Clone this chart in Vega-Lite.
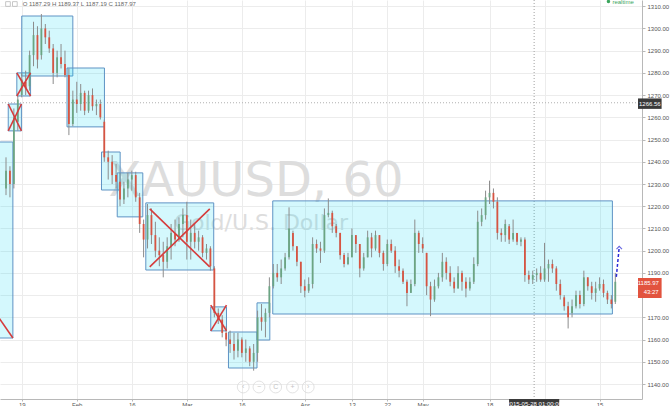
{
  "$schema": "https://vega.github.io/schema/vega-lite/v6.json",
  "width": 642,
  "height": 399,
  "autosize": {"type": "none"},
  "padding": {"left": 0, "top": 0, "right": 28, "bottom": 7},
  "background": "white",
  "config": {"view": {"stroke": null}, "font": "Liberation Sans"},
  "data": {"values": [{"k": 1}]},
  "datasets": {
    "candles": [
      {"t":"2015-01-15T00:00","o":1228,"h":1242,"l":1225,"c":1236},
      {"t":"2015-01-16T00:00","o":1236,"h":1238,"l":1224,"c":1230},
      {"t":"2015-01-17T00:00","o":1230,"h":1264,"l":1228,"c":1260},
      {"t":"2015-01-18T00:00","o":1258,"h":1270,"l":1254,"c":1268},
      {"t":"2015-01-19T00:00","o":1270,"h":1280,"l":1269,"c":1277},
      {"t":"2015-01-20T00:00","o":1276,"h":1281,"l":1270,"c":1273},
      {"t":"2015-01-21T00:00","o":1274,"h":1290,"l":1272,"c":1288},
      {"t":"2015-01-22T00:00","o":1288,"h":1303,"l":1283,"c":1297},
      {"t":"2015-01-23T00:00","o":1297,"h":1301,"l":1282,"c":1286},
      {"t":"2015-01-24T00:00","o":1288,"h":1306.5,"l":1286,"c":1300},
      {"t":"2015-01-25T00:00","o":1300,"h":1302,"l":1293,"c":1296},
      {"t":"2015-01-26T00:00","o":1296,"h":1299,"l":1289,"c":1291},
      {"t":"2015-01-27T00:00","o":1291,"h":1293,"l":1275,"c":1280},
      {"t":"2015-01-28T00:00","o":1280,"h":1290,"l":1278,"c":1287},
      {"t":"2015-01-29T00:00","o":1287,"h":1293,"l":1282,"c":1284},
      {"t":"2015-01-30T00:00","o":1284,"h":1290,"l":1278,"c":1279},
      {"t":"2015-01-31T00:00","o":1279,"h":1282,"l":1252,"c":1257},
      {"t":"2015-02-01T00:00","o":1257,"h":1272,"l":1256,"c":1268},
      {"t":"2015-02-02T00:00","o":1268,"h":1276,"l":1262,"c":1266},
      {"t":"2015-02-03T00:00","o":1266,"h":1275,"l":1263,"c":1271},
      {"t":"2015-02-04T00:00","o":1271,"h":1272,"l":1261,"c":1263},
      {"t":"2015-02-05T00:00","o":1263,"h":1272,"l":1262,"c":1270},
      {"t":"2015-02-06T00:00","o":1270,"h":1273,"l":1263,"c":1265},
      {"t":"2015-02-07T00:00","o":1265,"h":1268,"l":1261,"c":1266},
      {"t":"2015-02-08T00:00","o":1266,"h":1268,"l":1259,"c":1260},
      {"t":"2015-02-09T00:00","o":1258,"h":1259,"l":1240,"c":1242},
      {"t":"2015-02-10T00:00","o":1242,"h":1245,"l":1232,"c":1240},
      {"t":"2015-02-11T00:00","o":1240,"h":1243,"l":1230,"c":1234},
      {"t":"2015-02-12T00:00","o":1234,"h":1239,"l":1228,"c":1231},
      {"t":"2015-02-13T00:00","o":1231,"h":1235,"l":1220,"c":1223},
      {"t":"2015-02-14T00:00","o":1223,"h":1231,"l":1221,"c":1228},
      {"t":"2015-02-15T00:00","o":1228,"h":1235,"l":1224,"c":1232},
      {"t":"2015-02-16T00:00","o":1232,"h":1236,"l":1227,"c":1234},
      {"t":"2015-02-17T00:00","o":1234,"h":1235.5,"l":1222,"c":1224},
      {"t":"2015-02-18T00:00","o":1224,"h":1226,"l":1208,"c":1212},
      {"t":"2015-02-19T00:00","o":1212,"h":1214,"l":1197,"c":1205},
      {"t":"2015-02-20T00:00","o":1205,"h":1221,"l":1201,"c":1216},
      {"t":"2015-02-21T00:00","o":1216,"h":1219,"l":1203,"c":1207},
      {"t":"2015-02-22T00:00","o":1207,"h":1213,"l":1197,"c":1200},
      {"t":"2015-02-23T00:00","o":1200,"h":1206,"l":1193,"c":1198},
      {"t":"2015-02-24T00:00","o":1198,"h":1204,"l":1188,"c":1195},
      {"t":"2015-02-25T00:00","o":1195,"h":1206,"l":1192,"c":1202},
      {"t":"2015-02-26T00:00","o":1202,"h":1212,"l":1196,"c":1208},
      {"t":"2015-02-27T00:00","o":1208,"h":1214,"l":1202,"c":1205},
      {"t":"2015-02-28T00:00","o":1205,"h":1215,"l":1204,"c":1212},
      {"t":"2015-03-01T00:00","o":1212,"h":1219,"l":1206,"c":1216},
      {"t":"2015-03-02T00:00","o":1216,"h":1222,"l":1196,"c":1204},
      {"t":"2015-03-03T00:00","o":1204,"h":1214,"l":1196,"c":1208},
      {"t":"2015-03-04T00:00","o":1208,"h":1212,"l":1201,"c":1204},
      {"t":"2015-03-05T00:00","o":1204,"h":1209,"l":1200,"c":1206},
      {"t":"2015-03-06T00:00","o":1206,"h":1207,"l":1197,"c":1199},
      {"t":"2015-03-07T00:00","o":1199,"h":1203,"l":1196,"c":1201},
      {"t":"2015-03-08T00:00","o":1201,"h":1202,"l":1191,"c":1193},
      {"t":"2015-03-09T00:00","o":1192,"h":1193,"l":1170,"c":1172},
      {"t":"2015-03-10T00:00","o":1172,"h":1174,"l":1167,"c":1169},
      {"t":"2015-03-11T00:00","o":1169,"h":1171,"l":1161,"c":1163},
      {"t":"2015-03-12T00:00","o":1163,"h":1166,"l":1157,"c":1160},
      {"t":"2015-03-13T00:00","o":1160,"h":1164,"l":1154,"c":1158},
      {"t":"2015-03-14T00:00","o":1158,"h":1163,"l":1151,"c":1155},
      {"t":"2015-03-15T00:00","o":1155,"h":1163,"l":1152,"c":1160},
      {"t":"2015-03-16T00:00","o":1160,"h":1161,"l":1152,"c":1154},
      {"t":"2015-03-17T00:00","o":1154,"h":1160,"l":1150,"c":1156},
      {"t":"2015-03-18T00:00","o":1156,"h":1157,"l":1148,"c":1150},
      {"t":"2015-03-19T00:00","o":1150,"h":1158,"l":1146,"c":1154},
      {"t":"2015-03-20T00:00","o":1154,"h":1173,"l":1150,"c":1170},
      {"t":"2015-03-21T00:00","o":1170,"h":1176,"l":1164,"c":1168},
      {"t":"2015-03-22T00:00","o":1168,"h":1174,"l":1161,"c":1172},
      {"t":"2015-03-23T00:00","o":1172,"h":1188,"l":1170,"c":1184},
      {"t":"2015-03-24T00:00","o":1184,"h":1194,"l":1183,"c":1190},
      {"t":"2015-03-25T00:00","o":1190,"h":1194,"l":1186,"c":1188},
      {"t":"2015-03-26T00:00","o":1188,"h":1196,"l":1185,"c":1192},
      {"t":"2015-03-27T00:00","o":1192,"h":1199,"l":1191,"c":1197},
      {"t":"2015-03-28T00:00","o":1197,"h":1219.5,"l":1196,"c":1210},
      {"t":"2015-03-29T00:00","o":1208,"h":1209,"l":1200,"c":1202},
      {"t":"2015-03-30T00:00","o":1202,"h":1202,"l":1193,"c":1195},
      {"t":"2015-03-31T00:00","o":1195,"h":1195,"l":1181,"c":1184},
      {"t":"2015-04-01T00:00","o":1184,"h":1187,"l":1179,"c":1182},
      {"t":"2015-04-02T00:00","o":1182,"h":1188,"l":1181,"c":1185},
      {"t":"2015-04-03T00:00","o":1185,"h":1206,"l":1183,"c":1203},
      {"t":"2015-04-04T00:00","o":1203,"h":1205,"l":1199,"c":1201},
      {"t":"2015-04-05T00:00","o":1201,"h":1204,"l":1194.5,"c":1200},
      {"t":"2015-04-06T00:00","o":1200,"h":1219,"l":1199,"c":1216},
      {"t":"2015-04-07T00:00","o":1216,"h":1223.5,"l":1215,"c":1217},
      {"t":"2015-04-08T00:00","o":1217,"h":1218,"l":1208,"c":1211},
      {"t":"2015-04-09T00:00","o":1211,"h":1212,"l":1206,"c":1208},
      {"t":"2015-04-10T00:00","o":1208,"h":1208,"l":1196,"c":1198},
      {"t":"2015-04-11T00:00","o":1198,"h":1199,"l":1192.5,"c":1194},
      {"t":"2015-04-12T00:00","o":1194,"h":1199,"l":1193.5,"c":1197},
      {"t":"2015-04-13T00:00","o":1197,"h":1210,"l":1197,"c":1207},
      {"t":"2015-04-14T00:00","o":1207,"h":1207,"l":1199,"c":1203},
      {"t":"2015-04-15T00:00","o":1203,"h":1203,"l":1188,"c":1192},
      {"t":"2015-04-16T00:00","o":1192,"h":1199,"l":1191,"c":1197},
      {"t":"2015-04-17T00:00","o":1197,"h":1209,"l":1197,"c":1206},
      {"t":"2015-04-18T00:00","o":1206,"h":1208,"l":1197,"c":1201},
      {"t":"2015-04-19T00:00","o":1201,"h":1209,"l":1200,"c":1207},
      {"t":"2015-04-20T00:00","o":1207,"h":1207,"l":1197,"c":1199},
      {"t":"2015-04-21T00:00","o":1199,"h":1200,"l":1191,"c":1194},
      {"t":"2015-04-22T00:00","o":1194,"h":1205,"l":1193,"c":1203},
      {"t":"2015-04-23T00:00","o":1203,"h":1205,"l":1199,"c":1200},
      {"t":"2015-04-24T00:00","o":1200,"h":1202,"l":1190,"c":1193},
      {"t":"2015-04-25T00:00","o":1193,"h":1196,"l":1188,"c":1191},
      {"t":"2015-04-26T00:00","o":1191,"h":1192,"l":1185,"c":1186},
      {"t":"2015-04-27T00:00","o":1186,"h":1187,"l":1175,"c":1181},
      {"t":"2015-04-28T00:00","o":1181,"h":1187,"l":1181,"c":1185},
      {"t":"2015-04-29T00:00","o":1185,"h":1214,"l":1184,"c":1208},
      {"t":"2015-04-30T00:00","o":1208,"h":1209,"l":1199,"c":1203},
      {"t":"2015-05-01T00:00","o":1203,"h":1206,"l":1199,"c":1201},
      {"t":"2015-05-02T00:00","o":1199,"h":1199,"l":1180,"c":1184},
      {"t":"2015-05-03T00:00","o":1184,"h":1186,"l":1170.5,"c":1178},
      {"t":"2015-05-04T00:00","o":1178,"h":1187,"l":1177,"c":1184},
      {"t":"2015-05-05T00:00","o":1184,"h":1190,"l":1183,"c":1188},
      {"t":"2015-05-06T00:00","o":1188,"h":1199,"l":1186,"c":1195},
      {"t":"2015-05-07T00:00","o":1195,"h":1197,"l":1187,"c":1190},
      {"t":"2015-05-08T00:00","o":1190,"h":1193,"l":1184,"c":1186},
      {"t":"2015-05-09T00:00","o":1186,"h":1188,"l":1181,"c":1183},
      {"t":"2015-05-10T00:00","o":1183,"h":1193,"l":1183,"c":1190},
      {"t":"2015-05-11T00:00","o":1190,"h":1191,"l":1182,"c":1186},
      {"t":"2015-05-12T00:00","o":1186,"h":1188,"l":1179,"c":1183},
      {"t":"2015-05-13T00:00","o":1183,"h":1188,"l":1182,"c":1186},
      {"t":"2015-05-14T00:00","o":1186,"h":1197,"l":1185,"c":1194},
      {"t":"2015-05-15T00:00","o":1194,"h":1218,"l":1193,"c":1213},
      {"t":"2015-05-16T00:00","o":1213,"h":1219,"l":1211,"c":1216},
      {"t":"2015-05-17T00:00","o":1216,"h":1227,"l":1214,"c":1224},
      {"t":"2015-05-18T00:00","o":1224,"h":1231.5,"l":1221,"c":1226},
      {"t":"2015-05-19T00:00","o":1226,"h":1228,"l":1219,"c":1222},
      {"t":"2015-05-20T00:00","o":1222,"h":1224,"l":1205,"c":1208},
      {"t":"2015-05-21T00:00","o":1208,"h":1210,"l":1204,"c":1207},
      {"t":"2015-05-22T00:00","o":1207,"h":1214,"l":1204,"c":1212},
      {"t":"2015-05-23T00:00","o":1211,"h":1212,"l":1203,"c":1205},
      {"t":"2015-05-24T00:00","o":1205,"h":1214,"l":1204,"c":1208},
      {"t":"2015-05-25T00:00","o":1208,"h":1208,"l":1202.5,"c":1204},
      {"t":"2015-05-26T00:00","o":1204,"h":1206,"l":1202,"c":1205},
      {"t":"2015-05-27T00:00","o":1205,"h":1206,"l":1186,"c":1189},
      {"t":"2015-05-28T00:00","o":1189,"h":1191,"l":1185,"c":1187},
      {"t":"2015-05-29T00:00","o":1187,"h":1191,"l":1185,"c":1189},
      {"t":"2015-05-30T00:00","o":1189,"h":1192,"l":1186,"c":1190},
      {"t":"2015-05-31T00:00","o":1190,"h":1193,"l":1186,"c":1187},
      {"t":"2015-06-01T00:00","o":1187,"h":1203.5,"l":1186,"c":1192},
      {"t":"2015-06-02T00:00","o":1192,"h":1196,"l":1186,"c":1194},
      {"t":"2015-06-03T00:00","o":1194,"h":1196,"l":1190,"c":1192},
      {"t":"2015-06-04T00:00","o":1192,"h":1193,"l":1182,"c":1185},
      {"t":"2015-06-05T00:00","o":1185,"h":1187,"l":1178,"c":1180},
      {"t":"2015-06-06T00:00","o":1179,"h":1180,"l":1173,"c":1175},
      {"t":"2015-06-07T00:00","o":1175,"h":1177,"l":1165,"c":1170},
      {"t":"2015-06-08T00:00","o":1172,"h":1178,"l":1170,"c":1175},
      {"t":"2015-06-09T00:00","o":1175,"h":1182,"l":1174,"c":1180},
      {"t":"2015-06-10T00:00","o":1180,"h":1182,"l":1174,"c":1176},
      {"t":"2015-06-11T00:00","o":1176,"h":1191,"l":1175,"c":1188},
      {"t":"2015-06-12T00:00","o":1188,"h":1188,"l":1182,"c":1184},
      {"t":"2015-06-13T00:00","o":1184,"h":1186,"l":1178,"c":1181},
      {"t":"2015-06-14T00:00","o":1181,"h":1186,"l":1177,"c":1183},
      {"t":"2015-06-15T00:00","o":1183,"h":1188,"l":1182,"c":1185},
      {"t":"2015-06-16T00:00","o":1185,"h":1187,"l":1179,"c":1181},
      {"t":"2015-06-17T00:00","o":1181,"h":1182,"l":1176,"c":1178},
      {"t":"2015-06-18T00:00","o":1178,"h":1180,"l":1174,"c":1176},
      {"t":"2015-06-19T00:00","o":1177,"h":1190,"l":1176,"c":1186}
    ],
    "boxes": [
      {"x1":"2014-12-13T05:00","x2":"2015-01-16T18:00","p1":1248.9,"p2":1160.7},
      {"x1":"2015-01-15T13:40","x2":"2015-01-18T22:10","p1":1266.0,"p2":1253.9},
      {"x1":"2015-01-17T18:00","x2":"2015-01-21T06:00","p1":1280.0,"p2":1269.6},
      {"x1":"2015-01-19T00:00","x2":"2015-02-01T00:00","p1":1305.6,"p2":1278.6},
      {"x1":"2015-01-30T12:30","x2":"2015-02-09T01:00","p1":1282.2,"p2":1255.7},
      {"x1":"2015-02-08T07:00","x2":"2015-02-13T01:00","p1":1244.4,"p2":1227.3},
      {"x1":"2015-02-12T07:00","x2":"2015-02-18T19:10","p1":1235.0,"p2":1215.2},
      {"x1":"2015-02-19T13:30","x2":"2015-03-08T20:10","p1":1221.5,"p2":1191.3},
      {"x1":"2015-03-08T02:00","x2":"2015-03-12T02:10","p1":1174.7,"p2":1163.9},
      {"x1":"2015-03-12T14:10","x2":"2015-03-19T20:25","p1":1163.4,"p2":1147.2},
      {"x1":"2015-03-19T20:25","x2":"2015-03-23T02:40","p1":1176.5,"p2":1159.8},
      {"x1":"2015-03-23T20:40","x2":"2015-06-18T06:15","p1":1222.4,"p2":1171.5}
    ],
    "xlines": [
      {"x1":"2014-12-13T05:00","x2":"2015-01-16T18:00","p1":1248.9,"p2":1160.7},
      {"x1":"2015-01-15T13:40","x2":"2015-01-18T22:10","p1":1266.0,"p2":1253.9},
      {"x1":"2015-01-15T13:40","x2":"2015-01-18T22:10","p1":1253.9,"p2":1266.0},
      {"x1":"2015-01-17T18:00","x2":"2015-01-21T06:00","p1":1280.0,"p2":1269.6},
      {"x1":"2015-01-17T18:00","x2":"2015-01-21T06:00","p1":1269.6,"p2":1280.0},
      {"x1":"2015-02-20T13:30","x2":"2015-03-07T20:00","p1":1218.8,"p2":1192.7},
      {"x1":"2015-02-20T13:30","x2":"2015-03-07T20:00","p1":1192.7,"p2":1218.8},
      {"x1":"2015-03-08T02:00","x2":"2015-03-12T02:10","p1":1175.5,"p2":1163.9},
      {"x1":"2015-03-08T02:00","x2":"2015-03-12T02:10","p1":1163.9,"p2":1175.5}
    ],
    "nav": [
      {"t":"2015-03-16T08:25","g":"‹"},
      {"t":"2015-03-20T08:25","g":"−"},
      {"t":"2015-03-24T14:30","g":"C"},
      {"t":"2015-03-28T21:00","g":"+"},
      {"t":"2015-04-01T21:00","g":"›"}
    ],
    "icons": [
      {"t":"2015-01-15T12:00"},
      {"t":"2015-01-17T06:00"}
    ]
  },
  "encoding": {
    "x": {
      "type": "temporal", "title": null,
      "scale": {"domain": [{"year": 2015, "month": 1, "date": 14, "hours": 17, "minutes": 50}, {"year": 2015, "month": 6, "date": 24, "hours": 12, "minutes": 30}], "nice": false},
      "axis": {
        "values": [
          {"year": 2015, "month": 1, "date": 19},
          {"year": 2015, "month": 2, "date": 2},
          {"year": 2015, "month": 2, "date": 16},
          {"year": 2015, "month": 3, "date": 2},
          {"year": 2015, "month": 3, "date": 16},
          {"year": 2015, "month": 4, "date": 1},
          {"year": 2015, "month": 4, "date": 13},
          {"year": 2015, "month": 4, "date": 22},
          {"year": 2015, "month": 5, "date": 1},
          {"year": 2015, "month": 5, "date": 18},
          {"year": 2015, "month": 6, "date": 1},
          {"year": 2015, "month": 6, "date": 15}
        ],
        "labelExpr": "month(datum.value) == 5 && date(datum.value) == 1 ? '' : (date(datum.value) <= 2 ? timeFormat(datum.value, '%b') : timeFormat(datum.value, '%-d'))",
        "grid": true, "gridColor": "#ececec", "gridWidth": 1,
        "domainColor": "#b8b8b8", "tickColor": "#b8b8b8", "tickSize": 2,
        "labelFontSize": 6, "labelColor": "#555555", "labelPadding": 0,
        "labelOverlap": false, "labelFlush": false, "title": null
      }
    },
    "y": {
      "type": "quantitative", "title": null,
      "scale": {"domain": [1133.25, 1312.8], "nice": false, "zero": false},
      "axis": {
        "orient": "right",
        "values": [1140, 1150, 1160, 1170, 1180, 1190, 1200, 1210, 1220, 1230, 1240, 1250, 1260, 1270, 1280, 1290, 1300, 1310],
        "labelExpr": "datum.value == 1180 ? '' : format(datum.value, '.2f')",
        "grid": true, "gridColor": "#ececec", "gridWidth": 1,
        "domainColor": "#b8b8b8", "tickColor": "#b8b8b8", "tickSize": 3,
        "labelFontSize": 6, "labelColor": "#555555", "labelPadding": 2,
        "labelOverlap": false, "labelFlush": false, "title": null
      }
    }
  },
  "layer": [
    {
      "mark": {"type": "text", "font": "DejaVu Sans", "fontSize": 48, "color": "#dddddd", "align": "center", "baseline": "alphabetic"},
      "encoding": {
        "x": {"datum": {"year": 2015, "month": 3, "date": 19, "hours": 14}, "type": "temporal"},
        "y": {"datum": 1224.6, "type": "quantitative"},
        "text": {"value": "XAUUSD, 60"}
      }
    },
    {
      "mark": {"type": "text", "font": "DejaVu Sans", "fontSize": 22, "color": "#dddddd", "align": "center", "baseline": "alphabetic"},
      "encoding": {
        "x": {"datum": {"year": 2015, "month": 3, "date": 20, "hours": 20, "minutes": 40}, "type": "temporal"},
        "y": {"datum": 1209.5, "type": "quantitative"},
        "text": {"value": "Gold/U.S. Dollar"}
      }
    },
    {
      "mark": {"type": "rule", "color": "#b0b0b0", "strokeDash": [1, 2], "strokeWidth": 1},
      "encoding": {"x": null, "y": {"datum": 1266.56, "type": "quantitative"}}
    },
    {
      "mark": {"type": "rule", "color": "#a0a0a0", "strokeDash": [1, 2], "strokeWidth": 1},
      "encoding": {"y": null, "x": {"datum": {"year": 2015, "month": 5, "date": 29, "hours": 8, "minutes": 24}, "type": "temporal"}}
    },
    {
      "data": {"name": "boxes"},
      "mark": {"type": "rect", "fill": "#00d5f5", "fillOpacity": 0.17, "stroke": "#5e93c4", "strokeWidth": 1, "clip": true},
      "encoding": {
        "x": {"field": "x1", "type": "temporal"},
        "x2": {"field": "x2"},
        "y": {"field": "p1", "type": "quantitative"},
        "y2": {"field": "p2"}
      }
    },
    {
      "data": {"name": "candles"},
      "mark": {"type": "rule", "color": "#8c8c8c", "strokeWidth": 1, "clip": true},
      "encoding": {
        "x": {"field": "t", "type": "temporal"},
        "y": {"field": "l", "type": "quantitative"},
        "y2": {"field": "h"}
      }
    },
    {
      "data": {"name": "candles"},
      "mark": {"type": "bar", "width": 1.8, "clip": true},
      "encoding": {
        "x": {"field": "t", "type": "temporal"},
        "y": {"field": "o", "type": "quantitative"},
        "y2": {"field": "c"},
        "color": {"condition": {"test": "datum.c >= datum.o", "value": "#6ba583"}, "value": "#d75442"}
      }
    },
    {
      "data": {"name": "xlines"},
      "mark": {"type": "rule", "color": "#d63c3c", "strokeWidth": 1.6, "clip": true},
      "encoding": {
        "x": {"field": "x1", "type": "temporal"},
        "x2": {"field": "x2"},
        "y": {"field": "p1", "type": "quantitative"},
        "y2": {"field": "p2"}
      }
    },
    {
      "mark": {"type": "rule", "color": "#2a2ad6", "strokeWidth": 1.5, "strokeDash": [3, 2]},
      "encoding": {
        "x": {"datum": {"year": 2015, "month": 6, "date": 19, "hours": 6, "minutes": 15}, "type": "temporal"},
        "x2": {"datum": {"year": 2015, "month": 6, "date": 20}},
        "y": {"datum": 1188.2, "type": "quantitative"},
        "y2": {"datum": 1201.7}
      }
    },
    {
      "mark": {"type": "point", "shape": "M-1,1L0,0L1,1", "size": 30, "filled": false, "stroke": "#2a2ad6", "strokeWidth": 1.2},
      "encoding": {
        "x": {"datum": {"year": 2015, "month": 6, "date": 20}, "type": "temporal"},
        "y": {"datum": 1201.9, "type": "quantitative"}
      }
    },
    {
      "data": {"name": "nav"},
      "mark": {"type": "point", "shape": "circle", "size": 140, "filled": false, "stroke": "#d8d8d8", "strokeWidth": 1},
      "encoding": {
        "x": {"field": "t", "type": "temporal"},
        "y": {"datum": 1138.65, "type": "quantitative"}
      }
    },
    {
      "data": {"name": "nav"},
      "mark": {"type": "text", "fontSize": 7, "color": "#c4c4c4", "align": "center", "baseline": "middle"},
      "encoding": {
        "x": {"field": "t", "type": "temporal"},
        "y": {"datum": 1138.65, "type": "quantitative"},
        "text": {"field": "g"}
      }
    },
    {
      "data": {"name": "icons"},
      "mark": {"type": "point", "shape": "square", "size": 22, "filled": false, "stroke": "#b0b0b0", "strokeWidth": 1},
      "encoding": {
        "x": {"field": "t", "type": "temporal"},
        "y": {"datum": 1311.0, "type": "quantitative"}
      }
    },
    {
      "mark": {"type": "text", "fontSize": 6, "color": "#666666", "align": "left", "baseline": "middle"},
      "encoding": {
        "x": {"datum": {"year": 2015, "month": 1, "date": 19, "hours": 6}, "type": "temporal"},
        "y": {"datum": 1311.2, "type": "quantitative"},
        "text": {"value": "O 1187.29  H 1189.37  L 1187.19  C 1187.97"}
      }
    },
    {
      "mark": {"type": "point", "shape": "circle", "size": 12, "filled": true, "color": "#3ba55d", "opacity": 1},
      "encoding": {
        "x": {"datum": {"year": 2015, "month": 6, "date": 17, "hours": 6, "minutes": 15}, "type": "temporal"},
        "y": {"datum": 1312.1, "type": "quantitative"}
      }
    },
    {
      "mark": {"type": "text", "fontSize": 6, "color": "#3ba55d", "align": "left", "baseline": "middle"},
      "encoding": {
        "x": {"datum": {"year": 2015, "month": 6, "date": 18, "hours": 6, "minutes": 15}, "type": "temporal"},
        "y": {"datum": 1312.1, "type": "quantitative"},
        "text": {"value": "realtime"}
      }
    },
    {
      "mark": {"type": "rect", "fill": "#3a3a3a"},
      "encoding": {
        "x": {"datum": {"year": 2015, "month": 6, "date": 24, "hours": 18, "minutes": 30}, "type": "temporal"},
        "x2": {"datum": {"year": 2015, "month": 6, "date": 30, "hours": 18, "minutes": 45}},
        "y": {"datum": 1268.5, "type": "quantitative"},
        "y2": {"datum": 1263.8}
      }
    },
    {
      "mark": {"type": "text", "fontSize": 6, "color": "white", "align": "center", "baseline": "middle"},
      "encoding": {
        "x": {"datum": {"year": 2015, "month": 6, "date": 27, "hours": 19}, "type": "temporal"},
        "y": {"datum": 1266.1, "type": "quantitative"},
        "text": {"value": "1266.56"}
      }
    },
    {
      "mark": {"type": "rect", "fill": "#e2533e"},
      "encoding": {
        "x": {"datum": {"year": 2015, "month": 6, "date": 24, "hours": 18, "minutes": 30}, "type": "temporal"},
        "x2": {"datum": {"year": 2015, "month": 6, "date": 30, "hours": 18, "minutes": 45}},
        "y": {"datum": 1187.7, "type": "quantitative"},
        "y2": {"datum": 1178.7}
      }
    },
    {
      "mark": {"type": "text", "fontSize": 6, "color": "white", "align": "center", "baseline": "middle"},
      "encoding": {
        "x": {"datum": {"year": 2015, "month": 6, "date": 27, "hours": 9, "minutes": 40}, "type": "temporal"},
        "y": {"datum": 1185.45, "type": "quantitative"},
        "text": {"value": "1185.97"}
      }
    },
    {
      "mark": {"type": "text", "fontSize": 6, "color": "white", "align": "right", "baseline": "middle"},
      "encoding": {
        "x": {"datum": {"year": 2015, "month": 6, "date": 30, "hours": 0, "minutes": 45}, "type": "temporal"},
        "y": {"datum": 1181.6, "type": "quantitative"},
        "text": {"value": "43:27"}
      }
    },
    {
      "mark": {"type": "rect", "fill": "#3a3a3a"},
      "encoding": {
        "x": {"datum": {"year": 2015, "month": 5, "date": 22, "hours": 23, "minutes": 15}, "type": "temporal"},
        "x2": {"datum": {"year": 2015, "month": 6, "date": 4, "hours": 17, "minutes": 45}},
        "y": {"datum": 1133.25, "type": "quantitative"},
        "y2": {"datum": 1128.0}
      }
    },
    {
      "mark": {"type": "text", "fontSize": 6, "color": "white", "align": "center", "baseline": "middle"},
      "encoding": {
        "x": {"datum": {"year": 2015, "month": 5, "date": 29, "hours": 8, "minutes": 24}, "type": "temporal"},
        "y": {"datum": 1131.0, "type": "quantitative"},
        "text": {"value": "2015-05-28 01:00:00"}
      }
    }
  ]
}
